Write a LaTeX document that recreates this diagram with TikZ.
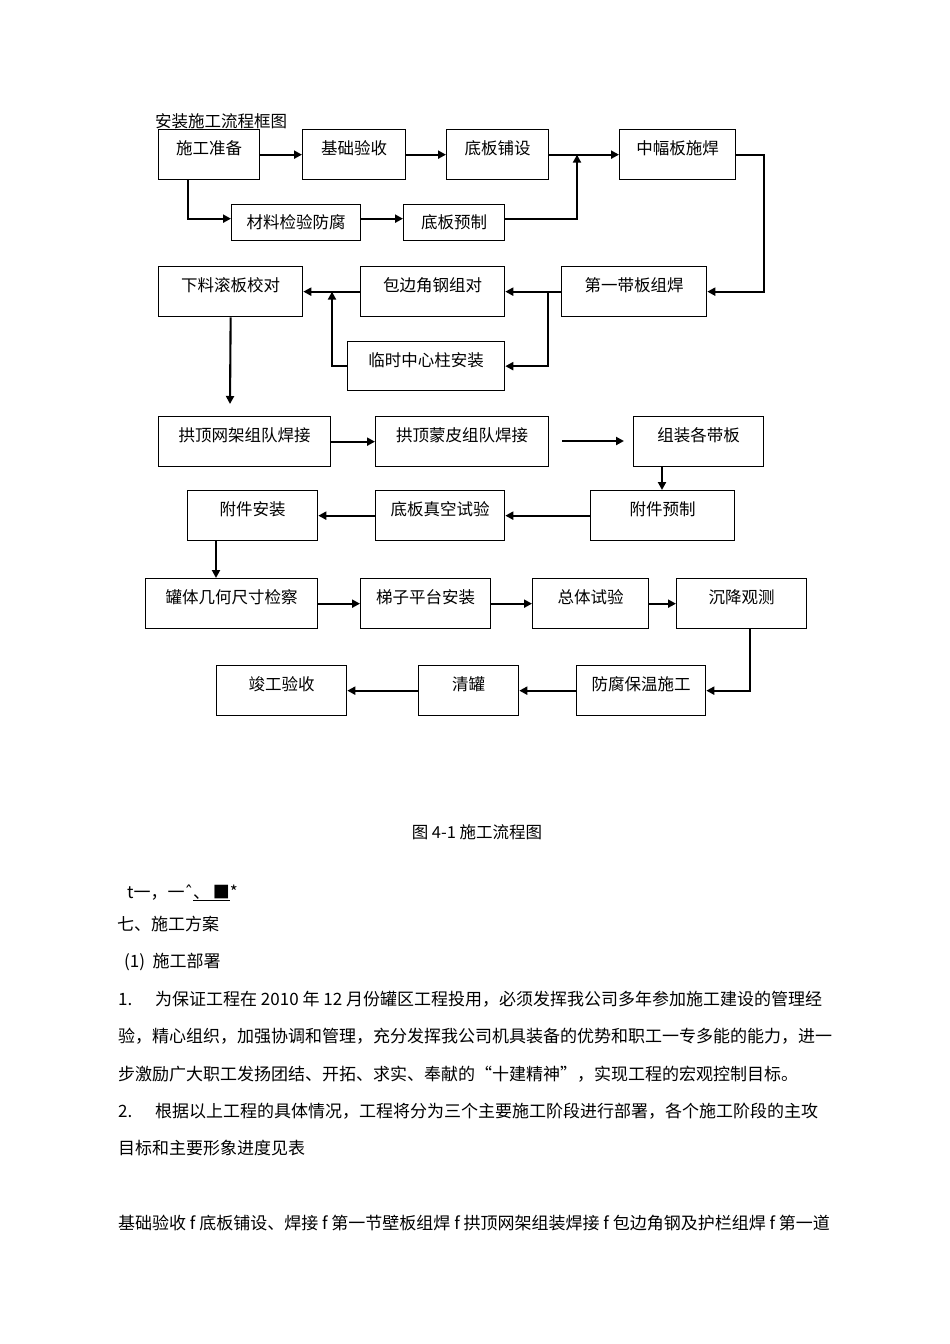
\documentclass[tikz,border=0pt]{standalone}
\usepackage{fontspec}
\setmainfont{Noto Sans CJK SC}
\newfontfamily\djv{DejaVu Sans}
\usetikzlibrary{arrows.meta}
\begin{document}
\begin{tikzpicture}[x=1pt,y=-1pt,
  box/.style={draw=black, line width=1.3pt, anchor=north west, inner sep=0pt,
    font=\fontsize{16.5}{18}\selectfont, text height=12pt, text depth=12pt, minimum height=50pt},
  lowbox/.style={box, text height=12pt, text depth=0pt, minimum height=36pt},
  arr/.style={line width=2.1pt, -{Triangle[length=8pt,width=8pt]}},
  body/.style={anchor=base west, inner sep=0pt, font=\fontsize{17}{20}\selectfont},
  captext/.style={anchor=base, inner sep=0pt, font=\fontsize{16.5}{18}\selectfont}]
\useasboundingbox (0,0) rectangle (950,1344);
\fill[white] (0,0) rectangle (950,1344);

\node[anchor=base west, inner sep=0pt, font=\fontsize{16.5}{18}\selectfont] (title) at (155,127) {安装施工流程框图};

% row 1
\node[box, minimum width=101pt] (A) at (158,129) {施工准备};
\node[box, minimum width=103pt] (B) at (302,129) {基础验收};
\node[box, minimum width=102pt] (C) at (446,129) {底板铺设};
\node[box, minimum width=116pt] (D) at (619,129) {中幅板施焊};
% row 2
\node[lowbox, minimum width=129pt] (E) at (231,204) {材料检验防腐};
\node[lowbox, minimum width=101pt] (F) at (403,204) {底板预制};
% row 3
\node[box, minimum width=144pt] (G) at (158,266) {下料滚板校对};
\node[box, minimum width=144pt] (H) at (360,266) {包边角钢组对};
\node[box, minimum width=145pt] (I) at (561,266) {第一带板组焊};
\node[box, minimum width=157pt, minimum height=49pt] (J) at (347,341) {临时中心柱安装};
% row 4
\node[box, minimum width=172pt] (K) at (158,416) {拱顶网架组队焊接};
\node[box, minimum width=173pt] (L) at (375,416) {拱顶蒙皮组队焊接};
\node[box, minimum width=130pt] (M) at (633,416) {组装各带板};
% row 5
\node[box, minimum width=130pt] (N) at (187,490) {附件安装};
\node[box, minimum width=129pt] (O) at (375,490) {底板真空试验};
\node[box, minimum width=144pt] (P) at (590,490) {附件预制};
% row 6
\node[box, minimum width=172pt] (Q) at (145,578) {罐体几何尺寸检察};
\node[box, minimum width=130pt] (R) at (360,578) {梯子平台安装};
\node[box, minimum width=116pt] (S) at (532,578) {总体试验};
\node[box, minimum width=130pt] (T) at (676,578) {沉降观测};
% row 7
\node[box, minimum width=130pt] (U) at (216,665) {竣工验收};
\node[box, minimum width=100pt] (V) at (418,665) {清罐};
\node[box, minimum width=129pt] (W) at (576,665) {防腐保温施工};

% helper coordinates
\coordinate (xA) at (188,0);
\coordinate (xj1) at (577,0);
\coordinate (xr) at (764,0);
\coordinate (xj2) at (548,0);
\coordinate (xj3) at (332,0);
\coordinate (gEnd) at (230,404);
\coordinate (f1) at (562,441);
\coordinate (f2) at (624,441);
\coordinate (xM) at (662,0);
\coordinate (xN) at (216,0);
\coordinate (xT) at (750,0);

% connectors
\draw[arr] (A.east) -- (B.west);
\draw[arr] (B.east) -- (C.west);
\draw[arr] (C.east) -- (D.west);
\draw[arr] (A.south -| xA) |- ([yshift=4pt]E.west);
\draw[arr] ([yshift=4pt]E.east) -- ([yshift=4pt]F.west);
\draw[arr] ([yshift=4pt]F.east) -| (xj1 |- C.east);
\draw[arr] (D.east) -| (xr |- I.east) -- (I.east);
\draw[arr] (I.west) -- (H.east);
\draw[arr] (xj2 |- I.west) |- (J.east);
\draw[arr] (H.west) -- (G.east);
\draw[arr] (J.west) -| (xj3 |- G.east);
\draw[arr] (G.south) -- (gEnd);
\draw[arr] (K.east) -- (L.west);
\draw[arr] (f1) -- (f2);
\draw[arr] (M.south -| xM) -- (P.north -| xM);
\draw[arr] (P.west) -- (O.east);
\draw[arr] (O.west) -- (N.east);
\draw[arr] (N.south -| xN) -- (Q.north -| xN);
\draw[arr] (Q.east) -- (R.west);
\draw[arr] (R.east) -- (S.west);
\draw[arr] (S.east) -- (T.west);
\draw[arr] (T.south -| xT) |- (W.east);
\draw[arr] (W.west) -- (V.east);
\draw[arr] (V.west) -- (U.east);

% caption and body text
\node[captext] (caption) at (477,838) {图 4-1 施工流程图};
\node[body] (t0) at (127,898) {t一，一{\djv ˆ}\underline{、\,■}*};
\node[body] (t1) at (117,930) {七、施工方案};
\node[body] (t2) at (124,967) {(1)\ \ 施工部署};
\node[body] (n1) at (118,1005) {1.};
\node[body] (t3) at (155,1005) {为保证工程在 2010 年 12 月份罐区工程投用，必须发挥我公司多年参加施工建设的管理经};
\node[body] (t4) at (118,1042) {验，精心组织，加强协调和管理，充分发挥我公司机具装备的优势和职工一专多能的能力，进一};
\node[body] (t5) at (118,1080) {步激励广大职工发扬团结、开拓、求实、奉献的“十建精神”，实现工程的宏观控制目标。};
\node[body] (n2) at (118,1117) {2.};
\node[body] (t6) at (155,1117) {根据以上工程的具体情况，工程将分为三个主要施工阶段进行部署，各个施工阶段的主攻};
\node[body] (t7) at (118,1154) {目标和主要形象进度见表};
\node[body] (t8) at (118,1229) {基础验收 f 底板铺设、焊接 f 第一节壁板组焊 f 拱顶网架组装焊接 f 包边角钢及护栏组焊 f 第一道};
\end{tikzpicture}
\end{document}
